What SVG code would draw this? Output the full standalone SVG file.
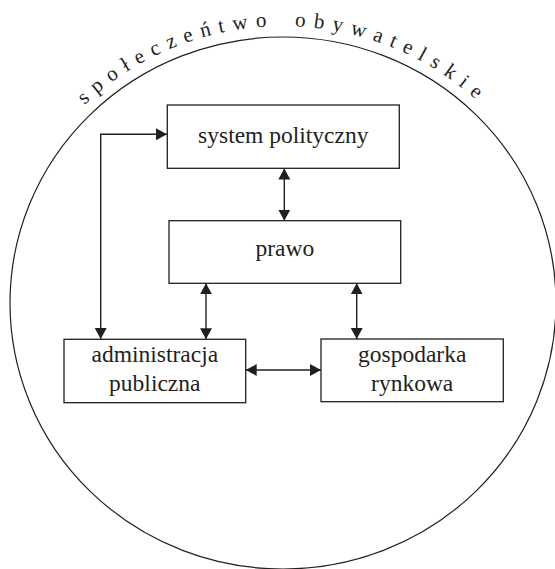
<svg xmlns="http://www.w3.org/2000/svg" width="555" height="569" viewBox="0 0 555 569">
<style>
.box{fill:#fff;stroke:#231f20;stroke-width:1.3}
.lbl{font-size:23.5px;fill:#231f20;text-anchor:middle}
.con{fill:none;stroke:#231f20;stroke-width:1.4}
.arc{font-size:21px;fill:#231f20;letter-spacing:8px;word-spacing:7px}
</style>
<defs>
<marker id="ah" markerUnits="userSpaceOnUse" markerWidth="12" markerHeight="13" refX="11" refY="6" orient="auto-start-reverse" viewBox="0 0 12 12">
<path d="M0,0 L11,6 L0,12 z" fill="#231f20"/>
</marker>
<path id="tp" d="M -1,303 A 284 277 0 0 1 567 303"/>
</defs>
<g id="society">
<ellipse cx="283" cy="303" rx="273" ry="266" fill="none" stroke="#231f20" stroke-width="1.2"/>
<text class="arc" font-family="Liberation Serif, Times New Roman, DejaVu Serif, Noto Serif, serif"><textPath href="#tp" startOffset="50%" text-anchor="middle">społeczeńtwo obywatelskie</textPath></text>
</g>
<g id="connectors">
<path class="con" d="M100.7,339 L100.7,134.3 L167,134.3" marker-start="url(#ah)" marker-end="url(#ah)"/>
<line class="con" x1="284.3" y1="168.5" x2="284.3" y2="220.7" marker-start="url(#ah)" marker-end="url(#ah)"/>
<line class="con" x1="206" y1="283.3" x2="206" y2="339.3" marker-start="url(#ah)" marker-end="url(#ah)"/>
<line class="con" x1="356.7" y1="283.3" x2="356.7" y2="339" marker-start="url(#ah)" marker-end="url(#ah)"/>
<line class="con" x1="245.7" y1="370" x2="321" y2="370" marker-start="url(#ah)" marker-end="url(#ah)"/>
</g>
<g font-family="Liberation Serif, Times New Roman, DejaVu Serif, Noto Serif, serif">
<g id="system">
<rect class="box" x="167.3" y="105" width="232" height="63.3"/>
<text class="lbl" x="283.3" y="143">system polityczny</text>
</g>
<g id="prawo">
<rect class="box" x="169" y="220.7" width="231.7" height="62.6"/>
<text class="lbl" x="284.8" y="255.5">prawo</text>
</g>
<g id="administracja">
<rect class="box" x="64" y="339.3" width="181.7" height="63.4"/>
<text class="lbl" x="154.8" y="362">administracja</text>
<text class="lbl" x="154.8" y="390.5">publiczna</text>
</g>
<g id="gospodarka">
<rect class="box" x="321" y="339" width="182.3" height="62.7"/>
<text class="lbl" x="412.2" y="362">gospodarka</text>
<text class="lbl" x="412.2" y="390.5">rynkowa</text>
</g>
</g>
</svg>
